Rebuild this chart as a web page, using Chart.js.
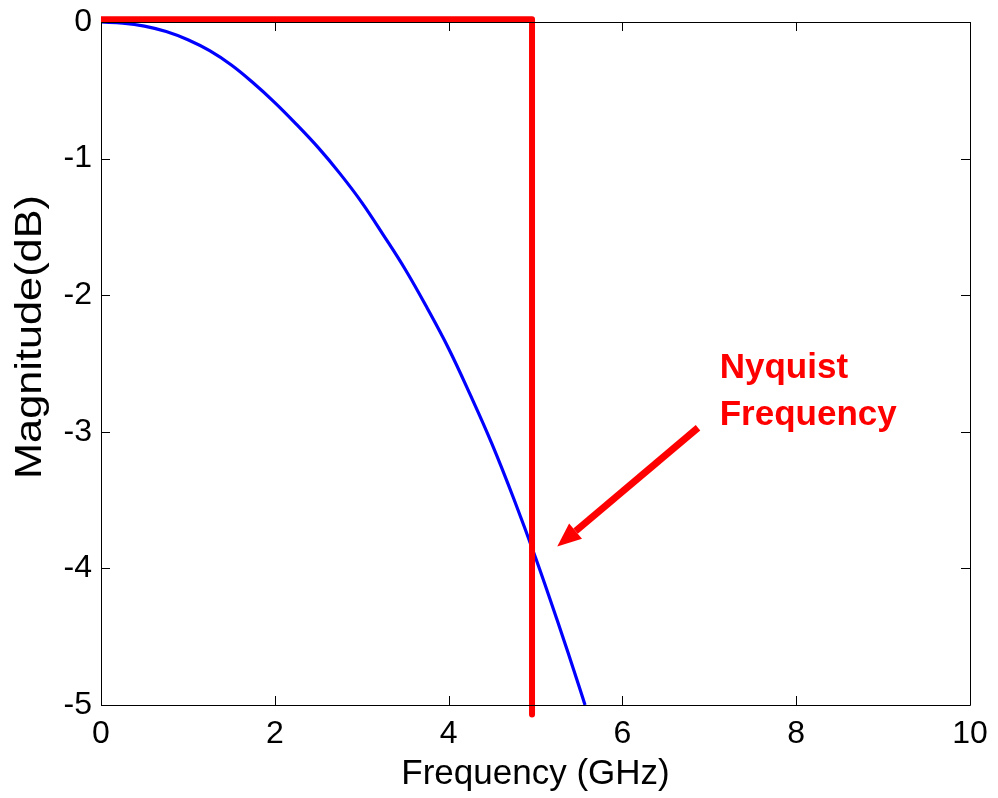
<!DOCTYPE html>
<html>
<head>
<meta charset="utf-8">
<style>
  html, body { margin: 0; padding: 0; background: #fff; }
  #wrap { width: 998px; height: 798px; }
</style>
<script src="https://cdn.jsdelivr.net/npm/chart.js@4.4.1/dist/chart.umd.min.js"></script>
</head>
<body>
<div id="wrap"><canvas id="mag-chart" width="998" height="798"></canvas></div>
<script>
// Data
const freqGHz = [0, 0.25, 0.5, 0.75, 1, 1.25, 1.5, 1.75, 2, 2.25, 2.5, 2.75, 3, 3.25, 3.5, 3.75, 4, 4.25, 4.5, 4.75, 5, 5.25, 5.5, 5.57];
const magDB = [0, -0.008, -0.03, -0.07, -0.13, -0.21, -0.315, -0.445, -0.59, -0.75, -0.92, -1.11, -1.32, -1.56, -1.81, -2.09, -2.39, -2.73, -3.09, -3.49, -3.92, -4.38, -4.86, -5.0];

const nyquistX = [0, 4.96, 4.96];
const nyquistY = [0.02, 0.02, -5.07];

const xTicks = [0, 2, 4, 6, 8, 10];
const yTicks = [-5, -4, -3, -2, -1, 0];

const arrowFrom = [6.87, -2.97];
const arrowTo = [5.25, -3.84];
const noteLines = ['Nyquist', 'Frequency'];
const noteAt = [7.12, -2.606];

const FONT = '"Liberation Sans", Arial, Helvetica, sans-serif';

document.addEventListener('DOMContentLoaded', () => {
    const ctx = document.getElementById('mag-chart').getContext('2d');

    // box around the axes + inward ticks, matlab style
    const boxPlugin = {
        id: 'box',
        afterDatasetsDraw(chart) {
            const { ctx, chartArea: a, scales } = chart;
            const len = 9;
            ctx.save();
            ctx.strokeStyle = '#000';
            ctx.lineWidth = 1;
            ctx.beginPath();
            ctx.rect(a.left + 0.5, a.top + 0.5, a.right - a.left, a.bottom - a.top);
            scales.x.ticks.forEach(t => {
                const px = Math.round(scales.x.getPixelForValue(t.value)) + 0.5;
                ctx.moveTo(px, a.bottom); ctx.lineTo(px, a.bottom - len);
                ctx.moveTo(px, a.top); ctx.lineTo(px, a.top + len);
            });
            scales.y.ticks.forEach(t => {
                const py = Math.round(scales.y.getPixelForValue(t.value)) + 0.5;
                ctx.moveTo(a.left, py); ctx.lineTo(a.left + len, py);
                ctx.moveTo(a.right, py); ctx.lineTo(a.right - len, py);
            });
            ctx.stroke();
            ctx.restore();
        },
        afterDraw(chart) {
            const { ctx, scales } = chart;
            const x0 = scales.x.getPixelForValue(arrowFrom[0]);
            const y0 = scales.y.getPixelForValue(arrowFrom[1]);
            const x1 = scales.x.getPixelForValue(arrowTo[0]);
            const y1 = scales.y.getPixelForValue(arrowTo[1]);
            const ang = Math.atan2(y1 - y0, x1 - x0);
            const headLen = 24, headHalf = 10;
            const bx = x1 - headLen * Math.cos(ang);
            const by = y1 - headLen * Math.sin(ang);

            ctx.save();
            ctx.strokeStyle = '#ff0000';
            ctx.fillStyle = '#ff0000';
            ctx.lineWidth = 7;
            ctx.beginPath();
            ctx.moveTo(x0, y0);
            ctx.lineTo(bx, by);
            ctx.stroke();
            ctx.beginPath();
            ctx.moveTo(x1, y1);
            ctx.lineTo(bx + headHalf * Math.sin(ang), by - headHalf * Math.cos(ang));
            ctx.lineTo(bx - headHalf * Math.sin(ang), by + headHalf * Math.cos(ang));
            ctx.closePath();
            ctx.fill();

            // note text
            ctx.font = 'bold 35px ' + FONT;
            ctx.textAlign = 'left';
            ctx.textBaseline = 'alphabetic';
            const tx = scales.x.getPixelForValue(noteAt[0]);
            const ty = scales.y.getPixelForValue(noteAt[1]);
            noteLines.forEach((line, i) => ctx.fillText(line, tx, ty + i * 47));

            // y axis label, a bit stretched like the original export
            ctx.fillStyle = '#000';
            ctx.font = '37px ' + FONT;
            ctx.textAlign = 'center';
            ctx.translate(41, 337);
            ctx.rotate(-Math.PI / 2);
            ctx.scale(1.17, 1);
            ctx.fillText('Magnitude(dB)', 0, 0);
            ctx.restore();
        }
    };

    new Chart(ctx, {
        type: 'line',
        data: {
            datasets: [
                {
                    label: 'Nyquist',
                    data: nyquistX.map((x, i) => ({ x: x, y: nyquistY[i] })),
                    borderColor: '#ff0000',
                    borderWidth: 6,
                    pointRadius: 0,
                    tension: 0,
                    clip: false,
                    borderJoinStyle: 'round'
                },
                {
                    label: 'Magnitude',
                    data: freqGHz.map((f, i) => ({ x: f, y: magDB[i] })),
                    borderColor: '#0000ff',
                    borderWidth: 3.2,
                    pointRadius: 0,
                    tension: 0.4
                }
            ]
        },
        options: {
            responsive: false,
            animation: false,
            devicePixelRatio: 1,
            layout: { padding: { top: 22, right: 28, left: 0, bottom: 0 } },
            plugins: {
                legend: { display: false },
                tooltip: { enabled: false }
            },
            scales: {
                x: {
                    type: 'linear',
                    min: 0,
                    max: 10,
                    afterBuildTicks: s => { s.ticks = xTicks.map(v => ({ value: v })); },
                    afterFit: s => { s.height = 93; s.paddingLeft = 0; s.paddingRight = 0; },
                    grid: { display: false, drawTicks: false },
                    border: { display: false },
                    ticks: {
                        color: '#000',
                        padding: 10,
                        maxRotation: 0,
                        font: { family: FONT, size: 32 },
                        callback: v => String(v)
                    },
                    title: {
                        display: true,
                        text: 'Frequency (GHz)',
                        color: '#000',
                        font: { family: FONT, size: 35 },
                        padding: { top: 0, bottom: 3 }
                    }
                },
                y: {
                    type: 'linear',
                    min: -5,
                    max: 0,
                    afterBuildTicks: s => { s.ticks = yTicks.map(v => ({ value: v })); },
                    afterFit: s => { s.width = 101; s.paddingTop = 0; s.paddingBottom = 0; },
                    grid: { display: false, drawTicks: false },
                    border: { display: false },
                    ticks: {
                        color: '#000',
                        padding: 9,
                        font: { family: FONT, size: 32 },
                        callback: v => String(v)
                    },
                    title: { display: false }
                }
            }
        },
        plugins: [boxPlugin]
    });
});
</script>
</body>
</html>
